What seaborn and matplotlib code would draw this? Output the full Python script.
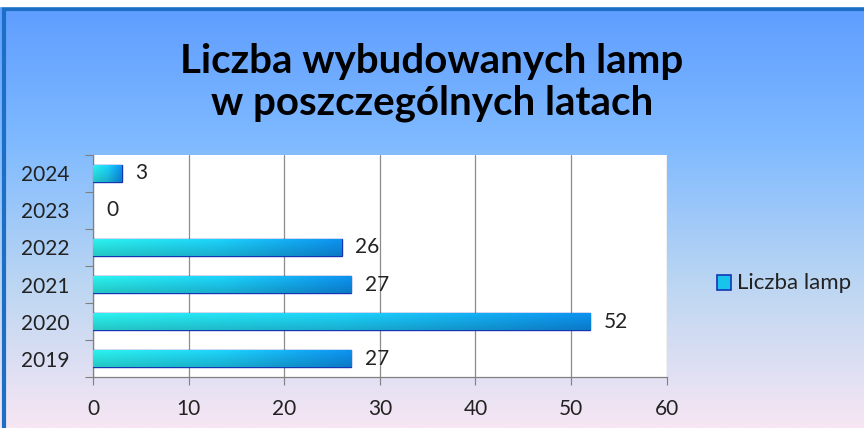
import numpy as np
import pandas as pd
import matplotlib
matplotlib.use("Agg")
import matplotlib.pyplot as plt
from matplotlib.colors import LinearSegmentedColormap
from matplotlib.patches import Rectangle
import seaborn as sns

years = ["2024", "2023", "2022", "2021", "2020", "2019"]
lamps = [3, 0, 26, 27, 52, 27]
x_ticks = [0, 10, 20, 30, 40, 50, 60]
title = "Liczba wybudowanych lamp\nw poszczególnych latach"
series_name = "Liczba lamp"

sns.set_theme(style="white")
plt.rcParams["font.family"] = ["Lato", "DejaVu Sans"]

df = pd.DataFrame({"rok": years, "lampy": lamps})

fig = plt.figure(figsize=(8.64, 4.28), dpi=100)

# background gradient (blue top -> pale pink bottom)
bg = fig.add_axes([0, 0, 1, 1], zorder=-10)
bg_cmap = LinearSegmentedColormap.from_list(
    "bg", ["#5d9cff", "#7fbaff", "#bcd6f2", "#f7e6f4"])
grad = np.linspace(0, 1, 256).reshape(-1, 1)
bg.imshow(grad, aspect="auto", cmap=bg_cmap, extent=[0, 1, 0, 1],
          origin="upper")
bg.set_xlim(0, 1)
bg.set_ylim(0, 1)
bg.axis("off")
bg.add_patch(Rectangle((0.005, -0.02), 1.1, 1.0, fill=False,
                       edgecolor="#1c6fc4", linewidth=3))
bg.add_patch(Rectangle((0, 0.985), 1, 0.02, color="white", zorder=3))

ax = fig.add_axes([0.1076, 0.119, 0.664, 0.519])
ax.set_facecolor("white")
sns.barplot(data=df, x="lampy", y="rok", orient="h", order=years,
            width=0.46, color="#10b8e8", edgecolor="#1535b5",
            linewidth=1.0, ax=ax, zorder=3)

# bar fill: cyan -> blue across, a bit darker towards the bottom edge
bar_cmap = LinearSegmentedColormap.from_list(
    "bar", ["#2ae8e4", "#1ccaf0", "#0c8ce6"])
hrow = bar_cmap(np.linspace(0, 1, 256))[:, :3]
shade = np.linspace(1.06, 0.86, 32).reshape(-1, 1, 1)
bar_img = np.clip(hrow[None, :, :] * shade, 0, 1)
for patch in ax.patches:
    w = patch.get_width()
    if w <= 0:
        patch.set_linewidth(0)
        continue
    x0, y0 = patch.get_x(), patch.get_y()
    h = patch.get_height()
    im = ax.imshow(bar_img, aspect="auto",
                   extent=[x0, x0 + w, y0 + h, y0], zorder=3.5)
    im.set_clip_path(patch)

for i, v in enumerate(lamps):
    ax.text(v + 1.4, i, str(v), va="center", ha="left",
            fontsize=15, color="#222222", zorder=5)

ax.set_xlim(0, 60)
ax.set_ylim(len(years) - 0.5, -0.5)
ax.set_xticks(x_ticks)
ax.set_xticklabels([str(t) for t in x_ticks])
ax.set_yticks(np.arange(-0.5, len(years), 1), minor=True)
ax.tick_params(axis="y", which="major", length=0, labelsize=15,
               labelcolor="#222222", pad=17)
ax.tick_params(axis="y", which="minor", length=6, width=0.8,
               color="#808080", left=True, direction="out")
ax.tick_params(axis="x", which="major", length=6, width=0.8,
               color="#808080", bottom=True, direction="out",
               labelsize=15, labelcolor="#222222", pad=10)
ax.xaxis.grid(True, color="#8c8c8c", linewidth=0.9, zorder=0)
ax.yaxis.grid(False)
ax.set_axisbelow(True)
ax.set_xlabel("")
ax.set_ylabel("")
for side in ["top", "right"]:
    ax.spines[side].set_visible(False)
for side in ["left", "bottom"]:
    ax.spines[side].set_color("#808080")
    ax.spines[side].set_linewidth(0.9)

fig.text(0.5, 0.808, title, ha="center", va="center", fontsize=29,
         fontweight="bold", color="black", linespacing=1.15)

# legend
fig.patches.append(Rectangle((0.830, 0.322), 0.016, 0.036,
                             transform=fig.transFigure, facecolor="#18c4ec",
                             edgecolor="#1535b5", linewidth=1.2))
fig.text(0.853, 0.339, series_name, ha="left", va="center", fontsize=16,
         color="#222222")

fig.savefig("out.png", dpi=100)
